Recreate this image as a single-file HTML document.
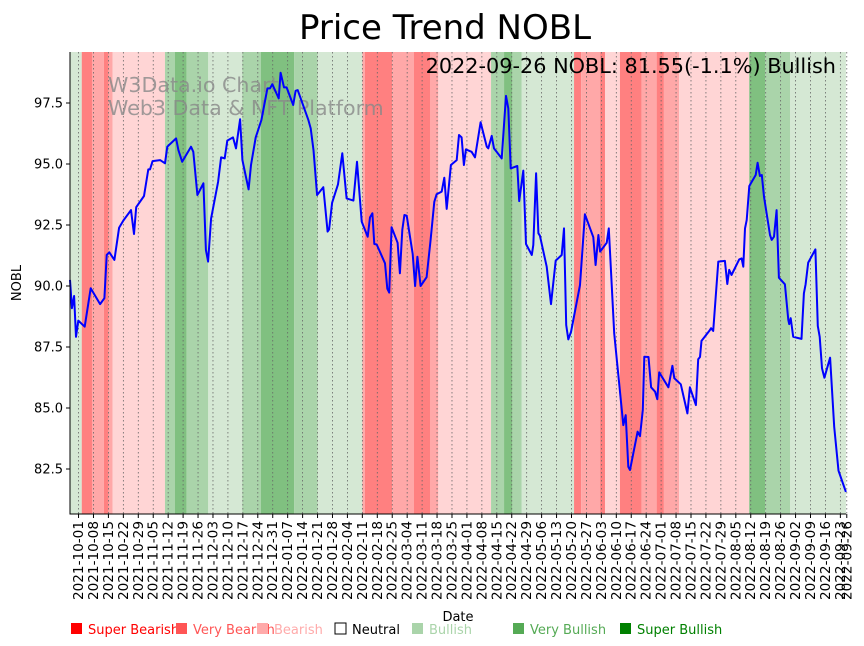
<!DOCTYPE html>
<html><head><meta charset="utf-8"><style>
body{margin:0;background:#fff;}
svg{display:block;font-family:"DejaVu Sans","Liberation Sans",sans-serif;}
</style></head><body>
<svg id="chart" width="864" height="646" viewBox="0 0 864 646" xmlns="http://www.w3.org/2000/svg">
<rect width="864" height="646" fill="#fff"/>
<text x="445" y="39" font-size="34" text-anchor="middle">Price Trend NOBL</text>
<g id="bands"></g>
<g id="grid"></g>
<text x="108" y="92" font-size="20.6" fill="#888" fill-opacity="0.8">W3Data.io Chart</text>
<text x="108" y="115" font-size="20.6" fill="#888" fill-opacity="0.8">Web3 Data &amp; NFT Platform</text>
<path id="line" fill="none" stroke="#0000ff" stroke-width="2" stroke-linejoin="round"/>
<text x="836" y="73" font-size="20.8" text-anchor="end">2022-09-26 NOBL: 81.55(-1.1%) Bullish</text>
<g id="axes"></g>
<text x="458" y="621" font-size="13" text-anchor="middle">Date</text>
<text x="21" y="283" font-size="13" text-anchor="middle" transform="rotate(-90 21 283)">NOBL</text>
<g id="legend"></g>
</svg>
<script>
// ---- data ----
const startDate = "2021-09-27";
const days = [0,0.9,1.9,2.8,3.9,6.9,9.7,14.1,16.1,17.2,18.4,20.8,23,25,28.6,30,31,34.7,36.7,37.5,38.7,42.2,44.5,45.6,49.7,50.8,52.6,56.7,57.8,59.7,62.5,63.7,64.7,66.1,69.4,70.8,72.5,73.7,76.4,77.8,79.7,80.8,83.7,84.8,87,89.7,92.5,93.7,94.8,97.8,98.7,100.3,101.5,104.6,105.7,106.7,111.7,112.8,114.1,115.8,118.7,120.7,121.4,122.8,125.6,127.6,129.6,132.8,134.5,136.7,139.5,140.6,141.7,142.6,143.7,147.6,148.7,149.6,150.7,153.5,154.6,155.7,156.7,157.8,160.6,161.7,162.8,164.3,167.1,169,170.7,171.8,174.2,175.4,176.5,178.5,181.2,182.3,183.5,184.6,185.5,188.2,189.8,192.4,195.3,196,197.6,198.7,202.3,204.3,205.4,206.5,209.6,210.5,212.4,213.7,216.4,217.1,218.4,219.5,220.2,223.4,225.4,227.6,230.4,231.5,232.5,233.5,234.8,239,241.3,245.2,246.3,247.6,248.4,251.5,252.5,255,259.3,260.4,261.6,262.4,266,267.1,268.4,269.1,271.1,272.3,274.2,275.2,276.1,280.4,282.3,283.2,286.2,289.3,290.5,293.3,294.4,295.2,295.9,299.6,300.4,301.4,303.8,306.9,308,308.9,310,313.6,314.7,315.5,316.3,317.1,318.3,321.3,322.2,323.3,324.2,325.2,328,328.8,329.9,331.1,332.2,335,336.6,337,337.7,338.9,342.8,343.9,344.7,345.9,349.3,350.4,351.3,352.4,353.5,356.2,358.1,360.1,363.6];
const prices = [90.25,89.09,89.59,87.92,88.58,88.33,89.91,89.26,89.5,91.27,91.38,91.07,92.39,92.68,93.11,92.13,93.23,93.69,94.78,94.78,95.12,95.16,95.03,95.71,96.05,95.57,95.09,95.71,95.5,93.73,94.21,91.48,91.0,92.77,94.27,95.27,95.23,95.96,96.09,95.64,96.83,95.16,93.96,94.96,96.09,96.8,98.1,98.1,98.27,97.69,98.74,98.14,98.14,97.42,98.0,98.03,96.8,96.46,95.57,93.73,94.05,92.23,92.32,93.41,94.17,95.44,93.59,93.5,95.09,92.64,92.02,92.81,92.98,91.72,91.7,90.93,89.89,89.73,92.41,91.77,90.52,92.3,92.91,92.88,91.31,90.0,91.2,90.0,90.36,91.89,93.45,93.76,93.87,94.44,93.16,94.96,95.16,96.19,96.09,94.96,95.6,95.5,95.27,96.71,95.71,95.64,96.15,95.64,95.23,97.79,97.28,94.82,94.92,93.48,94.73,91.72,91.27,91.68,94.62,92.16,92.06,90.79,89.26,91.04,91.27,92.36,88.4,87.81,88.13,90.04,92.94,92.0,90.86,92.09,91.41,91.77,92.36,88.06,84.3,84.71,82.59,82.46,84.03,83.85,84.92,87.1,87.09,85.85,85.67,85.36,86.46,85.85,86.73,86.22,85.97,84.78,85.85,85.12,87.0,87.09,87.75,88.16,88.27,88.16,91.0,91.03,90.08,90.66,90.45,91.09,91.13,90.79,92.36,92.7,94.1,94.55,95.05,94.51,94.55,93.66,92.09,91.89,92.02,93.11,90.34,90.07,88.61,88.44,88.68,87.92,87.83,89.7,90.07,90.96,91.5,88.36,87.92,86.63,86.24,87.06,84.23,82.43,81.56];
const bandStarts = [0,5.5,10.3,15.9,18.1,20,44.5,49.2,54.7,64.8,80.7,89.5,105,116.1,137,138.2,151,161.2,168.7,172.6,197.3,203.4,207.3,211.7,236.2,239.5,248.4,250.7,257.7,267.9,274.9,278.3,285.4,318.3,325.7,337.4];
const bandEnds   = [5.5,10.3,15.9,18.1,20,44.5,49.2,54.7,64.8,80.7,89.5,105,116.1,137,138.2,151,161.2,168.7,172.6,197.3,203.4,207.3,211.7,236.2,239.5,248.4,250.7,257.7,267.9,274.9,278.3,285.4,318.3,325.7,337.4,363.6];
const bandRegimes= [1,-3,-2,-3,-2,-1,2,3,2,1,2,3,2,1,-2,-3,-2,-3,-2,-1,2,3,2,1,-3,-2,-3,-1,-3,-2,-3,-2,-1,3,2,1];
const yTicks = [82.5,85.0,87.5,90.0,92.5,95.0,97.5];
const xTickLabels = ["2021-10-01","2021-10-08","2021-10-15","2021-10-22","2021-10-29","2021-11-05","2021-11-12","2021-11-19","2021-11-26","2021-12-03","2021-12-10","2021-12-17","2021-12-24","2021-12-31","2022-01-07","2022-01-14","2022-01-21","2022-01-28","2022-02-04","2022-02-11","2022-02-18","2022-02-25","2022-03-04","2022-03-11","2022-03-18","2022-03-25","2022-04-01","2022-04-08","2022-04-15","2022-04-22","2022-04-29","2022-05-06","2022-05-13","2022-05-20","2022-05-27","2022-06-03","2022-06-10","2022-06-17","2022-06-24","2022-07-01","2022-07-08","2022-07-15","2022-07-22","2022-07-29","2022-08-05","2022-08-12","2022-08-19","2022-08-26","2022-09-02","2022-09-09","2022-09-16","2022-09-23","2022-09-26"];
const legendLabels = ["Super Bearish","Very Bearish","Bearish","Neutral","Bullish","Very Bullish","Super Bullish"];

// ---- scales ----
const L=70,R=846,T=52,B=514;
const pxPerDay=2.134;
const X=d=>L+d*pxPerDay;
const Y=v=>469-(v-82.5)*24.4;
const dayOf=s=>(Date.parse(s)-Date.parse(startDate))/86400000;
const regimeFill={"-3":"#ff8080","-2":"#ffa8a8","-1":"#ffd5d5","0":"#ffffff","1":"#d5e8d4","2":"#aad4aa","3":"#80c080"};
const NS="http://www.w3.org/2000/svg";
function mk(tag,attrs,parent){const e=document.createElementNS(NS,tag);for(const k in attrs)e.setAttribute(k,attrs[k]);parent.appendChild(e);return e;}

const bands=document.getElementById('bands');
for(let i=0;i<bandStarts.length;i++){
  const x0=X(bandStarts[i]),x1=Math.min(X(bandEnds[i]),R);
  const r=mk('rect',{x:x0,y:T,width:x1-x0,height:B-T,fill:regimeFill[bandRegimes[i]]},bands);
  
  
}
const grid=document.getElementById('grid');
const axes=document.getElementById('axes');
xTickLabels.forEach(s=>{
  const x=X(dayOf(s));
  const g=mk('line',{x1:x,x2:x,y1:T,y2:B,stroke:'#666','stroke-width':0.8,'stroke-dasharray':'1.5,2.5'},grid);
  
  
  const t=mk('line',{x1:x,x2:x,y1:B,y2:B+4,stroke:'#000','stroke-width':1},axes);
  
  
  const tx=mk('text',{x:x+4.5,y:B+7,'font-size':13.6,'text-anchor':'end',transform:`rotate(-90 ${x+4.5} ${B+7})`},axes);
  tx.textContent=s;
  
  
});
yTicks.forEach(v=>{
  const y=Y(v);
  const t=mk('line',{x1:L-4,x2:L,y1:y,y2:y,stroke:'#000'},axes);
  
  
  const tx=mk('text',{x:L-7,y:y+4.5,'font-size':13,'text-anchor':'end'},axes);
  tx.textContent=v.toFixed(1);
  
  
});
const ax=mk('path',{d:`M${L},${T}V${B}H${R}`,fill:'none',stroke:'#000','stroke-width':1},axes);



document.getElementById('line').setAttribute('d',days.map((d,i)=>(i?'L':'M')+X(d).toFixed(1)+','+Y(prices[i]).toFixed(1)).join(''));

const legend=document.getElementById('legend');
const lx=[71,176,257,335,412,513,620];
const lc=["#ff0000","#ff5555","#ffaaaa","#000000","#aad4aa","#55aa55","#008000"];
const lf=["#ff0000","#ff5555","#ffaaaa","#ffffff","#aad4aa","#55aa55","#008000"];
legendLabels.forEach((s,i)=>{
  const r=mk('rect',{x:lx[i],y:623,width:11,height:11,fill:lf[i],stroke:i===3?'#000':'none'},legend);
  
  
  const t=mk('text',{x:lx[i]+17,y:634,'font-size':13,fill:lc[i]},legend);
  t.textContent=s;
  
  
});
</script>
</body></html>
